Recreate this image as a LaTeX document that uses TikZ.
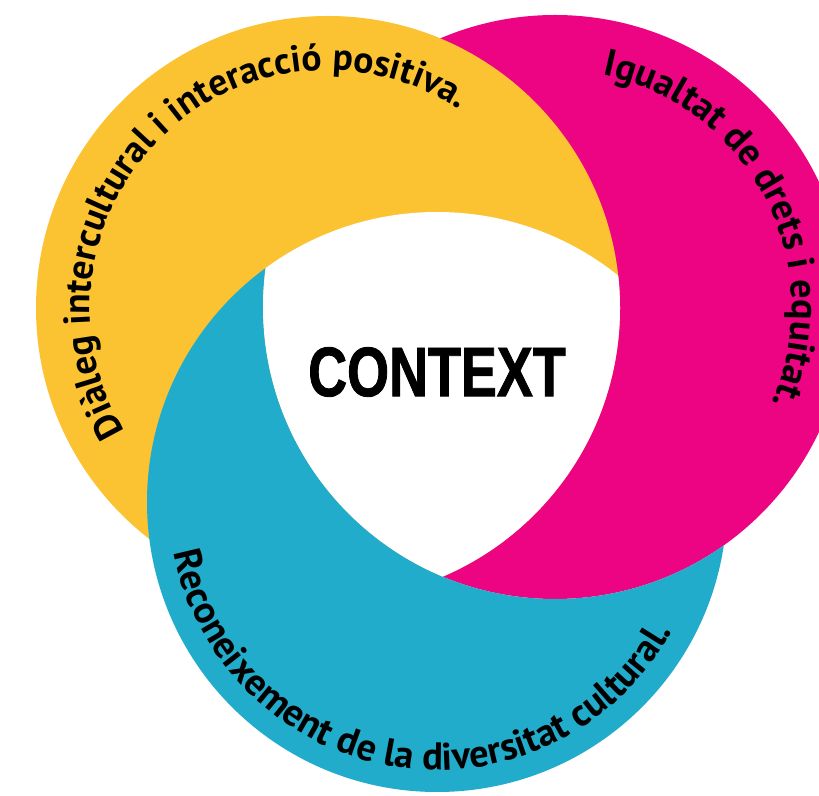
\documentclass[tikz,border=0pt]{standalone}
\usepackage{fontspec}
\setmainfont{Liberation Sans}
\newfontfamily\arcfont{PT Sans}
\newfontfamily\ctxfont[FakeStretch=0.77,FakeBold=1.2]{Liberation Sans}
\usetikzlibrary{decorations.text}
\definecolor{ringyellow}{RGB}{251,194,50}
\definecolor{ringmagenta}{RGB}{236,4,130}
\definecolor{ringcyan}{RGB}{33,172,204}
\tikzset{
  ctxtext/.style={font=\ctxfont\bfseries\fontsize{70}{70}\selectfont, text=black, inner sep=0pt},
}
\begin{document}
\begin{tikzpicture}[x=1pt,y=1pt]
\useasboundingbox (0,0) rectangle (819,795);
\fill[white] (0,0) rectangle (819,795);
\begin{scope}
\clip (0,0) rectangle (819,795);
% magenta disc, then yellow disc on top of it
\fill[ringmagenta] (555,488) circle[radius=292];
\fill[ringyellow]  (328,487) circle[radius=292];
% cyan disc outside the magenta disc (cyan over yellow, under magenta)
\begin{scope}[even odd rule]
  \clip (-10,-10) rectangle (830,805) (555,488) circle[radius=292];
  \fill[ringcyan] (437,293) circle[radius=290];
\end{scope}
% white centre where all three discs meet
\begin{scope}
  \clip (328,487) circle[radius=292];
  \clip (555,488) circle[radius=292];
  \fill[white] (437,293) circle[radius=290];
\end{scope}
\end{scope}
% arc texts
\path[decorate, decoration={text along path, text align=center,
  text={|\arcfont\bfseries\fontsize{37.5}{37.5}\selectfont|Diàleg intercultural i interacció positiva.}}]
  (328,487) ++(223.8:238) arc[start angle=223.8, end angle=43.8, radius=238];
\path[decorate, decoration={text along path, text align=center,
  text={|\arcfont\bfseries\fontsize{38}{38}\selectfont|Igualtat de drets i equitat.}}]
  (555,488) ++(117.3:237) arc[start angle=117.3, end angle=-62.7, radius=237];
\path[decorate, decoration={text along path, text align=center,
  text={|\arcfont\bfseries\fontsize{38.5}{38.5}\selectfont|Reconeixement de la diversitat cultural.}}]
  (437,293) ++(171:268) arc[start angle=171, end angle=351, radius=268];
\node[ctxtext] (context) at (437,423) {CONTEXT};
\end{tikzpicture}
\end{document}
